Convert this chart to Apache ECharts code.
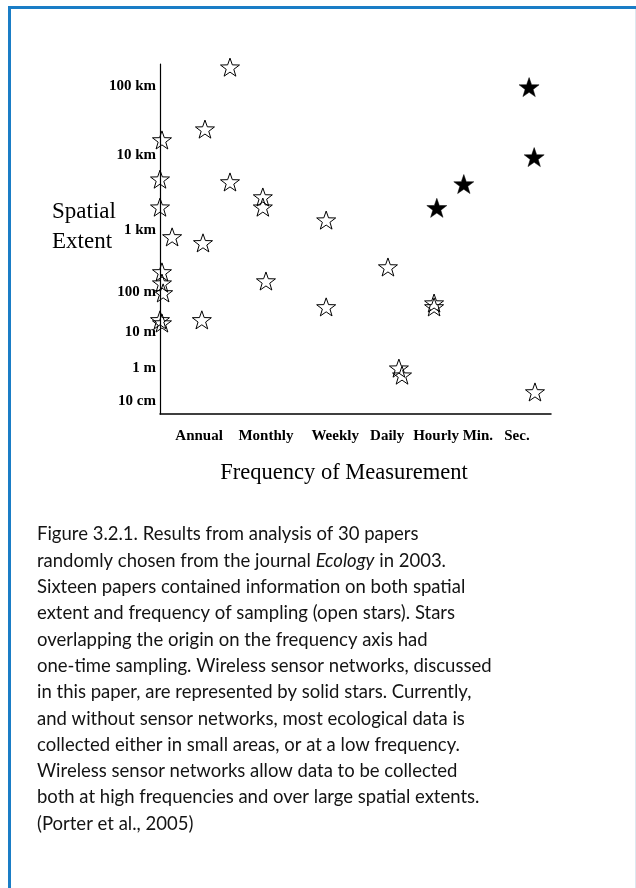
<!DOCTYPE html>
<html>
<head>
<meta charset="utf-8">
<script src="https://cdn.jsdelivr.net/npm/echarts@6/dist/echarts.min.js"></script>
<style>
  html, body { margin: 0; padding: 0; background: #fff; }
  #chart { width: 636px; height: 888px; }
</style>
</head>
<body>
<div id="chart"></div>
<script>
// Frequency of measurement: label text and its place on the frequency axis (0 = one-time sampling)
const freqLabels = ['Annual', 'Monthly', 'Weekly', 'Daily', 'Hourly', 'Min.', 'Sec.'];
const freqLevels = [10.0, 27.1, 44.8, 58.1, 70.6, 81.3, 91.3];

// Spatial extent: label text and its place on the extent axis
const extentLabels = ['100 km', '10 km', '1 km', '100 m', '10 m', '1 m', '10 cm'];
const extentLevels = [93.7, 74.0, 52.6, 34.9, 23.4, 13.1, 3.7];

// Papers from Ecology (2003): frequency position and extent position (open stars)
const paperFreq = [17.9, 11.5, 0.5, 0.0, 17.9, 26.3, 26.3, 0.0, 3.1, 11.0, 42.5, 0.5, 0.5, 0.8, 27.1,
                   42.5, 0.0, 0.5, 10.7, 58.3, 70.1, 70.1, 61.1, 61.9, 95.9];
const paperExtent = [99.1, 81.4, 78.3, 67.1, 66.3, 62.0, 59.1, 59.1, 50.6, 48.9, 55.4, 40.6, 37.4, 34.6, 38.0,
                     30.6, 26.9, 26.0, 26.9, 42.0, 31.7, 30.6, 13.1, 11.1, 6.3];

// Wireless sensor networks (solid stars)
const sensorFreq = [94.4, 95.7, 77.7, 70.8];
const sensorExtent = [93.4, 73.4, 65.7, 58.9];

// Caption below the figure, one entry per printed line
const captionLines = [
  'Figure 3.2.1. Results from analysis of 30 papers',
  'randomly chosen from the journal {i|Ecology} in 2003.',
  'Sixteen papers contained information on both spatial',
  'extent and frequency of sampling (open stars). Stars',
  'overlapping the origin on the frequency axis had',
  'one-time sampling. Wireless sensor networks, discussed',
  'in this paper, are represented by solid stars. Currently,',
  'and without sensor networks, most ecological data is',
  'collected either in small areas, or at a low frequency.',
  'Wireless sensor networks allow data to be collected',
  'both at high frequencies and over large spatial extents.',
  '(Porter et al., 2005)'
];

// Five-pointed star outline used as the scatter symbol
function starPath() {
  const R = 50, r = 20, cx = 50, cy = 52;
  const pts = [];
  for (let i = 0; i < 10; i++) {
    const a = -Math.PI / 2 + i * Math.PI / 5;
    const rad = i % 2 === 0 ? R : r;
    pts.push((cx + rad * Math.cos(a)).toFixed(2) + ' ' + (cy + rad * Math.sin(a)).toFixed(2));
  }
  return 'path://M' + pts.join(' L') + ' Z';
}
const STAR = starPath();

const pairs = (xs, ys) => xs.map((x, i) => [x, ys[i]]);

const SERIF = '"Liberation Serif", "DejaVu Serif", serif';
const SANS = 'Lato, "Noto Sans", sans-serif';

const chart = echarts.init(document.getElementById('chart'), null, { renderer: 'canvas' });

const captionGraphics = captionLines.map((line, i) => ({
  type: 'text',
  left: 37,
  top: 525 + i * 26.3,
  style: {
    text: line,
    fill: '#141414',
    font: '18.5px ' + SANS,
    rich: { i: { fontStyle: 'italic', fontSize: 18.5, fontFamily: 'Lato, "Noto Sans", sans-serif', fill: '#141414' } }
  }
}));

chart.setOption({
  animation: false,
  backgroundColor: '#ffffff',
  grid: { left: 160, top: 64, width: 391, height: 350, containLabel: false },
  xAxis: {
    type: 'value',
    min: 0,
    max: 100,
    splitLine: { show: false },
    axisTick: { show: false },
    axisLine: { show: true, onZero: false, lineStyle: { color: '#000', width: 1.5 } },
    axisLabel: {
      customValues: freqLevels,
      formatter: v => freqLabels[freqLevels.indexOf(v)] || '',
      margin: 15,
      color: '#000',
      fontFamily: SERIF,
      fontWeight: 'bold',
      fontSize: 15
    }
  },
  yAxis: {
    type: 'value',
    min: 0,
    max: 100,
    splitLine: { show: false },
    axisTick: { show: false },
    axisLine: { show: true, onZero: false, lineStyle: { color: '#000', width: 1.2 } },
    axisLabel: {
      customValues: extentLevels,
      formatter: v => extentLabels[extentLevels.indexOf(v)] || '',
      margin: 4,
      color: '#000',
      fontFamily: SERIF,
      fontWeight: 'bold',
      fontSize: 15
    }
  },
  series: [
    {
      name: 'Papers',
      type: 'scatter',
      clip: false,
      symbol: STAR,
      symbolKeepAspect: true,
      symbolSize: 19,
      itemStyle: { color: 'rgba(255,255,255,0)', borderColor: '#000', borderWidth: 1, opacity: 1 },
      data: pairs(paperFreq, paperExtent)
    },
    {
      name: 'Sensor networks',
      type: 'scatter',
      clip: false,
      symbol: STAR,
      symbolKeepAspect: true,
      symbolSize: 20,
      itemStyle: { color: '#000', borderColor: '#000', borderWidth: 0.5, opacity: 1 },
      data: pairs(sensorFreq, sensorExtent)
    }
  ],
  graphic: [
    // page frame
    { type: 'rect', shape: { x: 8, y: 6, width: 628, height: 3 }, style: { fill: '#1a7dc6' }, silent: true },
    { type: 'rect', shape: { x: 8, y: 6, width: 3, height: 882 }, style: { fill: '#1a7dc6' }, silent: true },
    { type: 'rect', shape: { x: 635, y: 9, width: 1, height: 879 }, style: { fill: '#dde7ef' }, silent: true },
    // axis titles
    {
      type: 'text', left: 52, top: 197,
      style: { text: 'Spatial\nExtent', font: '23px ' + SERIF, fill: '#000', lineHeight: 30 }
    },
    {
      type: 'text', x: 344, y: 473,
      style: { text: 'Frequency of Measurement', font: '22.5px ' + SERIF, fill: '#000', align: 'center', verticalAlign: 'middle' }
    },
    ...captionGraphics
  ]
});
</script>
</body>
</html>
